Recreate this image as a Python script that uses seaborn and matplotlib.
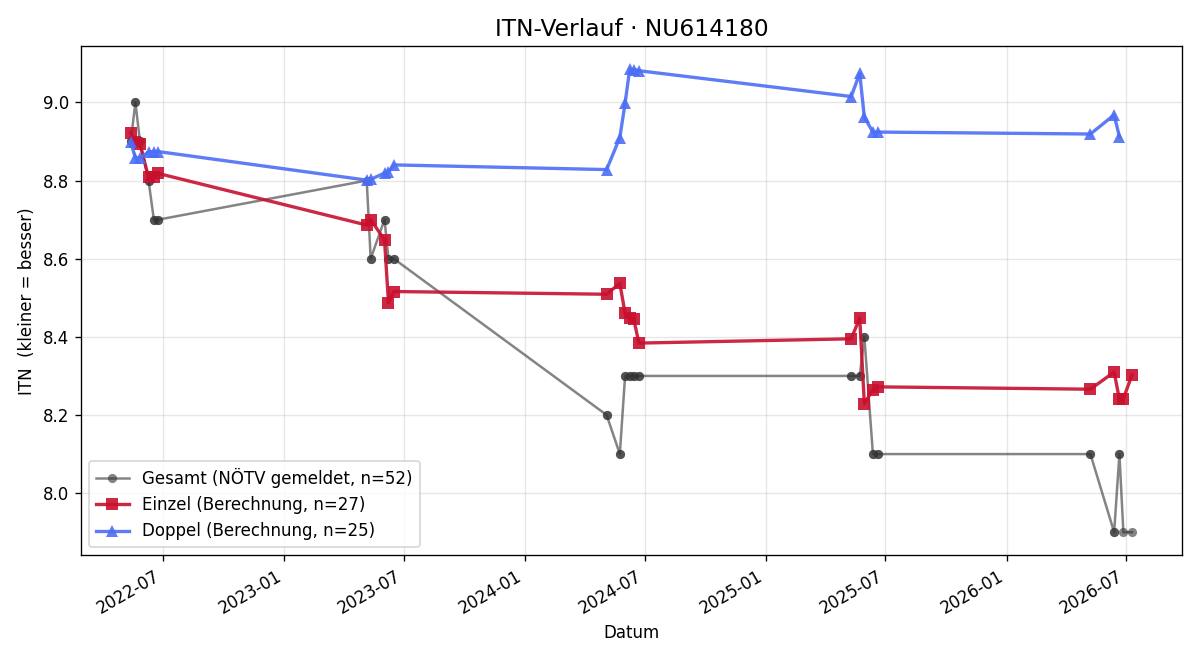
import pandas as pd
import matplotlib
matplotlib.use("Agg")
import matplotlib.pyplot as plt
import matplotlib.dates as mdates
import seaborn as sns

# Einzel (Berechnung)
einzel_dates = ["2022-05-13", "2022-05-20", "2022-05-27", "2022-06-09", "2022-06-17", "2022-06-24",
                "2023-05-06", "2023-05-12", "2023-06-02", "2023-06-08", "2023-06-16",
                "2024-05-04", "2024-05-24", "2024-06-01", "2024-06-08", "2024-06-14", "2024-06-22",
                "2025-05-10", "2025-05-23", "2025-05-30", "2025-06-12", "2025-06-20",
                "2026-05-08", "2026-06-13", "2026-06-21", "2026-06-27", "2026-07-10"]
einzel_itn = [8.922, 8.898, 8.893, 8.808, 8.808, 8.818,
              8.686, 8.700, 8.648, 8.487, 8.516,
              8.509, 8.537, 8.460, 8.448, 8.446, 8.384,
              8.395, 8.448, 8.229, 8.265, 8.272,
              8.266, 8.310, 8.240, 8.242, 8.302]

# Doppel (Berechnung)
doppel_dates = ["2022-05-13", "2022-05-20", "2022-05-27", "2022-06-09", "2022-06-17", "2022-06-24",
                "2023-05-06", "2023-05-12", "2023-06-02", "2023-06-08", "2023-06-16",
                "2024-05-04", "2024-05-24", "2024-06-01", "2024-06-08", "2024-06-14", "2024-06-22",
                "2025-05-10", "2025-05-23", "2025-05-30", "2025-06-12", "2025-06-20",
                "2026-05-08", "2026-06-13", "2026-06-21"]
doppel_itn = [8.898, 8.858, 8.858, 8.873, 8.874, 8.874,
              8.801, 8.803, 8.819, 8.821, 8.840,
              8.828, 8.910, 8.998, 9.085, 9.084, 9.081,
              9.015, 9.074, 8.962, 8.924, 8.924,
              8.919, 8.968, 8.912]

# Gesamt-ITN (NÖTV gemeldet) pro Spieltag
spieltage = ["2022-05-13", "2022-05-20", "2022-05-27", "2022-06-09", "2022-06-17", "2022-06-24",
             "2023-05-06", "2023-05-12", "2023-06-02", "2023-06-08", "2023-06-16",
             "2024-05-04", "2024-05-24", "2024-06-01", "2024-06-08", "2024-06-14", "2024-06-22",
             "2025-05-10", "2025-05-23", "2025-05-30", "2025-06-12", "2025-06-20",
             "2026-05-08", "2026-06-13", "2026-06-21", "2026-06-27", "2026-07-10"]
gesamt_itn = [8.9, 9.0, 8.9, 8.8, 8.7, 8.7,
              8.8, 8.6, 8.7, 8.6, 8.6,
              8.2, 8.1, 8.3, 8.3, 8.3, 8.3,
              8.3, 8.3, 8.4, 8.1, 8.1,
              8.1, 7.9, 8.1, 7.9, 7.9]

df_e = pd.DataFrame({"Datum": pd.to_datetime(einzel_dates), "ITN": einzel_itn})
df_d = pd.DataFrame({"Datum": pd.to_datetime(doppel_dates), "ITN": doppel_itn})

# eine Zeile pro Spiel (Einzel + Doppel), mit gemeldeter Gesamt-ITN am Spieltag
gesamt_map = dict(zip(pd.to_datetime(spieltage), gesamt_itn))
df_g = pd.concat([df_e[["Datum"]], df_d[["Datum"]]]).sort_values("Datum").reset_index(drop=True)
df_g["ITN"] = df_g["Datum"].map(gesamt_map)

fig, ax = plt.subplots(figsize=(10, 5.5), dpi=120)

sns.lineplot(data=df_g, x="Datum", y="ITN", estimator=None, sort=True, ax=ax,
             color="#333333", alpha=0.6, linewidth=1.5, marker="o", markersize=5.5,
             markeredgewidth=0, label=f"Gesamt (NÖTV gemeldet, n={len(df_g)})")
sns.lineplot(data=df_e, x="Datum", y="ITN", estimator=None, sort=True, ax=ax,
             color="#C8102E", alpha=0.9, linewidth=2, marker="s", markersize=7,
             markeredgewidth=0, label=f"Einzel (Berechnung, n={len(df_e)})")
sns.lineplot(data=df_d, x="Datum", y="ITN", estimator=None, sort=True, ax=ax,
             color="#4C6EF5", alpha=0.9, linewidth=2, marker="^", markersize=7,
             markeredgewidth=0, label=f"Doppel (Berechnung, n={len(df_d)})")

ax.set_title("ITN-Verlauf · NU614180", fontsize=14)
ax.set_xlabel("Datum")
ax.set_ylabel("ITN  (kleiner = besser)")
ax.grid(True, alpha=0.3)
ax.xaxis.set_major_locator(mdates.MonthLocator(bymonth=[1, 7]))
ax.xaxis.set_major_formatter(mdates.DateFormatter("%Y-%m"))
ax.legend(loc="lower left")
fig.autofmt_xdate()

plt.tight_layout()
plt.savefig("out.png")
